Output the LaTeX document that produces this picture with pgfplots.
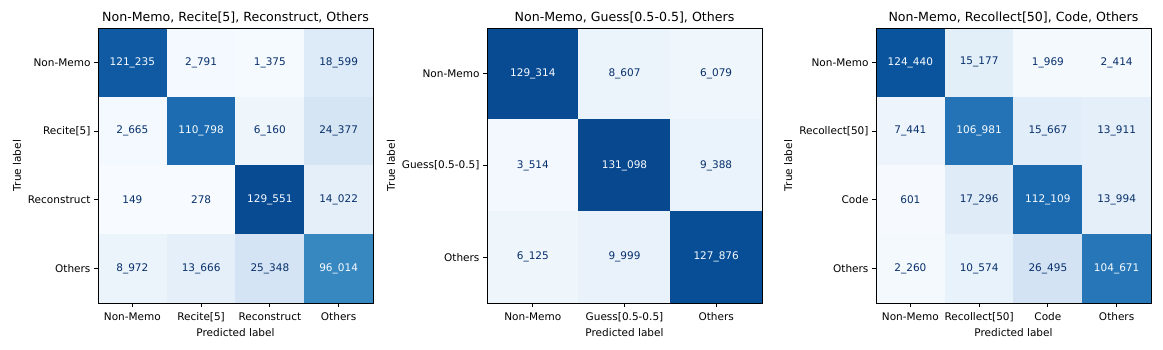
\documentclass[border=0pt]{standalone}
\usepackage{fontspec}
\setmainfont{DejaVu Sans}
\usepackage{pgfplots}
\usepackage{pgfplotstable}
\pgfplotsset{compat=1.18}

\definecolor{cmdark}{RGB}{8,48,107}
\definecolor{cmlight}{RGB}{247,251,255}

% confusion matrices: r = true row, c = predicted column, v = count
\pgfplotstableread{
r c v
0 0 121235
0 1 2791
0 2 1375
0 3 18599
1 0 2665
1 1 110798
1 2 6160
1 3 24377
2 0 149
2 1 278
2 2 129551
2 3 14022
3 0 8972
3 1 13666
3 2 25348
3 3 96014
}\tabA

\pgfplotstableread{
r c v
0 0 129314
0 1 8607
0 2 6079
1 0 3514
1 1 131098
1 2 9388
2 0 6125
2 1 9999
2 2 127876
}\tabB

\pgfplotstableread{
r c v
0 0 124440
0 1 15177
0 2 1969
0 3 2414
1 0 7441
1 1 106981
1 2 15667
1 3 13911
2 0 601
2 1 17296
2 2 112109
2 3 13994
3 0 2260
3 1 10574
3 2 26495
3 3 104671
}\tabC

\pgfplotsset{
  colormap={blues}{rgb255=(247,251,255) rgb255=(222,235,247) rgb255=(198,219,239)
    rgb255=(158,202,225) rgb255=(107,174,214) rgb255=(66,146,198) rgb255=(33,113,181)
    rgb255=(8,81,156) rgb255=(8,48,107)},
  cm/.style={
    scale only axis, width=275pt, height=275pt,
    anchor=south west, axis on top,
    colormap name=blues, point meta min=0, point meta max=144000,
    tick align=outside, tick pos=left, major tick length=4pt,
    every tick/.style={black, line width=0.8pt},
    axis line style={black, line width=0.8pt},
    ticklabel style={font=\fontsize{10.5}{12}\selectfont},
    xticklabel style={yshift=-2pt},
    label style={font=\fontsize{10.5}{12}\selectfont},
    title style={font=\fontsize{12.6}{15}\selectfont, yshift=-5pt},
    xlabel={Predicted label}, ylabel={True label},
  },
  % cell numbers
  cmtext/.style={
    draw=none, mark=none, point meta=explicit,
    nodes near coords,
    every node near coord/.append style={anchor=center,
      font=\fontsize{10.5}{12}\selectfont, text=#1,
      /pgf/number format/.cd, fixed, precision=0, 1000 sep={\_}, assume math mode=true},
  },
}

\begin{document}
\begin{tikzpicture}

\begin{axis}[cm, at={(98pt,46pt)},
  xmin=-0.5, xmax=3.5, ymin=-0.5, ymax=3.5,
  title={Non-Memo, Recite[5], Reconstruct, Others},
  xtick={0,1,2,3}, xticklabels={Non-Memo, Recite[5], Reconstruct, Others},
  ytick={0,1,2,3}, yticklabels={Others, Reconstruct, Recite[5], Non-Memo}]
  \addplot[matrix plot*, mesh/cols=4, point meta=explicit]
    table[x=c, y expr=3-\thisrow{r}, meta=v] {\tabA};
  \addplot[cmtext=cmlight]
    table[x expr={\thisrow{v}>64850 ? \thisrow{c} : nan}, y expr=3-\thisrow{r}, meta=v] {\tabA};
  \addplot[cmtext=cmdark]
    table[x expr={\thisrow{v}>64850 ? nan : \thisrow{c}}, y expr=3-\thisrow{r}, meta=v] {\tabA};
\end{axis}

\begin{axis}[cm, at={(487pt,46pt)},
  xmin=-0.5, xmax=2.5, ymin=-0.5, ymax=2.5,
  title={Non-Memo, Guess[0.5-0.5], Others},
  xtick={0,1,2}, xticklabels={Non-Memo, Guess[0.5-0.5], Others},
  ytick={0,1,2}, yticklabels={Others, Guess[0.5-0.5], Non-Memo}]
  \addplot[matrix plot*, mesh/cols=3, point meta=explicit]
    table[x=c, y expr=2-\thisrow{r}, meta=v] {\tabB};
  \addplot[cmtext=cmlight]
    table[x expr={\thisrow{v}>67306 ? \thisrow{c} : nan}, y expr=2-\thisrow{r}, meta=v] {\tabB};
  \addplot[cmtext=cmdark]
    table[x expr={\thisrow{v}>67306 ? nan : \thisrow{c}}, y expr=2-\thisrow{r}, meta=v] {\tabB};
\end{axis}

\begin{axis}[cm, at={(876pt,46pt)},
  xmin=-0.5, xmax=3.5, ymin=-0.5, ymax=3.5,
  title={Non-Memo, Recollect[50], Code, Others},
  xtick={0,1,2,3}, xticklabels={Non-Memo, Recollect[50], Code, Others},
  ytick={0,1,2,3}, yticklabels={Others, Code, Recollect[50], Non-Memo}]
  \addplot[matrix plot*, mesh/cols=4, point meta=explicit]
    table[x=c, y expr=3-\thisrow{r}, meta=v] {\tabC};
  \addplot[cmtext=cmlight]
    table[x expr={\thisrow{v}>62520 ? \thisrow{c} : nan}, y expr=3-\thisrow{r}, meta=v] {\tabC};
  \addplot[cmtext=cmdark]
    table[x expr={\thisrow{v}>62520 ? nan : \thisrow{c}}, y expr=3-\thisrow{r}, meta=v] {\tabC};
\end{axis}

\pgfresetboundingbox
\useasboundingbox (0,0) rectangle (1163pt,349pt);
\end{tikzpicture}
\end{document}
